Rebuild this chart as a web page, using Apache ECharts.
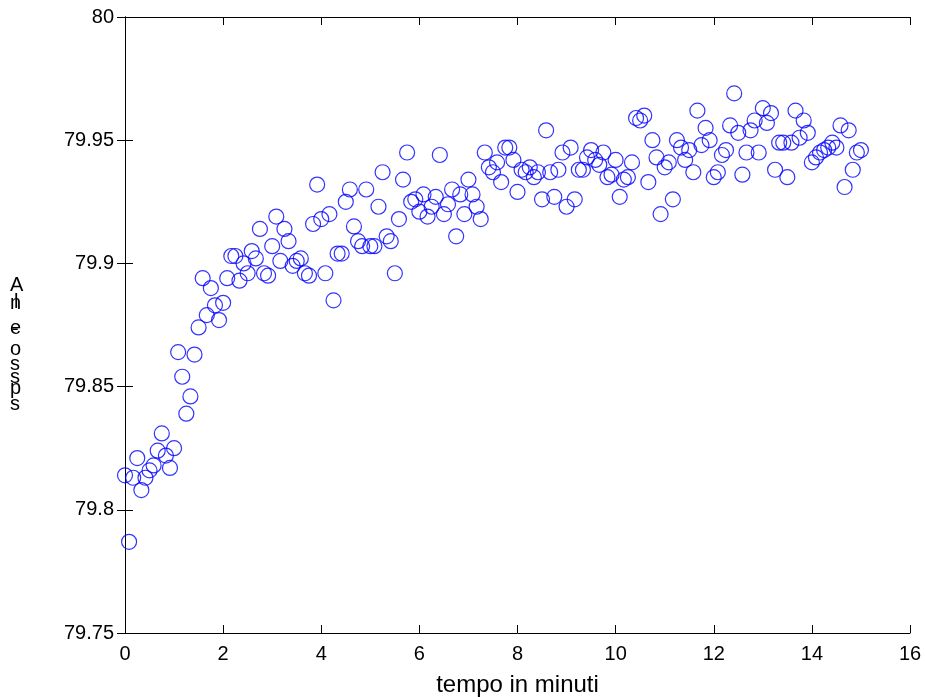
<!DOCTYPE html>
<html>
<head>
<meta charset="utf-8">
<script src="https://cdn.jsdelivr.net/npm/echarts@6/dist/echarts.min.js"></script>
<style>
html,body{margin:0;padding:0;background:#fff;}
#chart{width:925px;height:697px;}
</style>
</head>
<body>
<div id="chart"></div>
<script>
// sample times, seconds
var timeSeconds = [
  0,5,10,15,20,25,30,35,40,45,50,55,
  60,65,70,75,80,85,90,95,100,105,110,115,
  120,125,130,135,140,145,150,155,160,165,170,175,
  180,185,190,195,200,205,210,215,220,225,230,235,
  240,245,250,255,260,265,270,275,280,285,290,295,
  300,305,310,315,320,325,330,335,340,345,350,355,
  360,365,370,375,380,385,390,395,400,405,410,415,
  420,425,430,435,440,445,450,455,460,465,470,475,
  480,485,490,495,500,505,510,515,520,525,530,535,
  540,545,550,555,560,565,570,575,580,585,590,595,
  600,605,610,615,620,625,630,635,640,645,650,655,
  660,665,670,675,680,685,690,695,700,705,710,715,
  720,725,730,735,740,745,750,755,760,765,770,775,
  780,785,790,795,800,805,810,815,820,825,830,835,
  840,845,850,855,860,865,870,875,880,885,890,895,
  900
];
var values = [
  79.814,79.787,79.813,79.821,79.808,79.813,79.816,79.818,79.824,79.831,79.822,79.817,
  79.825,79.864,79.854,79.839,79.846,79.863,79.874,79.894,79.879,79.890,79.883,79.877,
  79.884,79.894,79.903,79.903,79.893,79.900,79.896,79.905,79.902,79.914,79.896,79.895,
  79.907,79.919,79.901,79.914,79.909,79.899,79.901,79.902,79.896,79.895,79.916,79.932,
  79.918,79.896,79.920,79.885,79.904,79.904,79.925,79.930,79.915,79.909,79.907,79.930,
  79.907,79.907,79.923,79.937,79.911,79.909,79.896,79.918,79.934,79.945,79.925,79.926,
  79.921,79.928,79.919,79.923,79.927,79.944,79.920,79.924,79.930,79.911,79.928,79.920,
  79.934,79.928,79.923,79.918,79.945,79.939,79.937,79.941,79.933,79.947,79.947,79.942,
  79.929,79.938,79.937,79.939,79.935,79.937,79.926,79.954,79.937,79.927,79.938,79.945,
  79.923,79.947,79.926,79.938,79.938,79.943,79.946,79.942,79.940,79.945,79.935,79.936,
  79.942,79.927,79.934,79.935,79.941,79.959,79.958,79.960,79.933,79.950,79.943,79.920,
  79.939,79.941,79.926,79.950,79.947,79.942,79.946,79.937,79.962,79.948,79.955,79.950,
  79.935,79.937,79.944,79.946,79.956,79.969,79.953,79.936,79.945,79.954,79.958,79.945,
  79.963,79.957,79.961,79.938,79.949,79.949,79.935,79.949,79.962,79.951,79.958,79.953,
  79.941,79.943,79.945,79.946,79.947,79.949,79.947,79.956,79.931,79.954,79.938,79.945,
  79.946
];
var xTicks = [0,2,4,6,8,10,12,14,16];
var yTicks = [79.75,79.8,79.85,79.9,79.95,80];
var xLabel = 'tempo in minuti';
var yLabelChars = [['A',0],['n',18],['l',17],['e',43],['-',44],['o',64],['s',79],['s',92],['p',103],['s',119]];

var points = values.map(function(v,i){ return [timeSeconds[i]/60, v]; });

var chart = echarts.init(document.getElementById('chart'), null, {renderer:'canvas'});
var FONT = 'Liberation Sans, Arial, Helvetica, sans-serif';

var graphics = yLabelChars.map(function(c){
  return {type:'text', left:c[0]==='l' ? 14 : (c[0]==='-' ? 12 : 10), top:275 + c[1], style:{text:c[0], font:'20px ' + FONT, fill:'#000'}};
});

var axisCommon = {
  type:'value', min:0, max:16, interval:2,
  axisLine:{show:true, lineStyle:{color:'#000', width:1}},
  axisTick:{show:true, inside:true, length:8, lineStyle:{color:'#000'}},
  splitLine:{show:false}
};

chart.setOption({
  animation:false,
  backgroundColor:'#fff',
  graphic: graphics,
  grid:{left:125, right:15, top:17, bottom:64, containLabel:false, outerBoundsMode:'none'},
  xAxis:[
    Object.assign({}, axisCommon, {
      position:'bottom',
      name:xLabel, nameLocation:'middle', nameGap:40,
      nameTextStyle:{color:'#000', fontSize:24, fontFamily:FONT},
      axisLabel:{show:true, color:'#000', fontSize:20, fontFamily:FONT, margin:11,
        formatter:function(v){ return xTicks.indexOf(v) >= 0 ? String(v) : ''; }}
    }),
    Object.assign({}, axisCommon, {position:'top', axisLabel:{show:false}})
  ],
  yAxis:[
    {
      type:'value', min:79.75, max:80, interval:0.05, position:'left',
      axisLine:{show:true, lineStyle:{color:'#000', width:1}},
      axisTick:{show:true, inside:true, length:8, lineStyle:{color:'#000'}},
      splitLine:{show:false},
      axisLabel:{show:true, color:'#000', fontSize:20, fontFamily:FONT, margin:11,
        formatter:function(v){
          for (var k=0;k<yTicks.length;k++){ if (Math.abs(yTicks[k]-v)<1e-9) return String(yTicks[k]); }
          return '';
        }}
    },
    {
      type:'value', min:79.75, max:80, interval:0.05, position:'right',
      axisLine:{show:true, lineStyle:{color:'#000', width:1}},
      axisTick:{show:true, inside:true, length:8, lineStyle:{color:'#000'}},
      splitLine:{show:false},
      axisLabel:{show:false}
    }
  ],
  series:[{
    type:'scatter',
    data:points,
    xAxisIndex:0, yAxisIndex:0,
    symbol:'circle',
    symbolSize:15,
    itemStyle:{color:'rgba(0,0,0,0)', borderColor:'#0000ff', borderWidth:1.2},
    emphasis:{disabled:true}
  }]
});
</script>
</body>
</html>
